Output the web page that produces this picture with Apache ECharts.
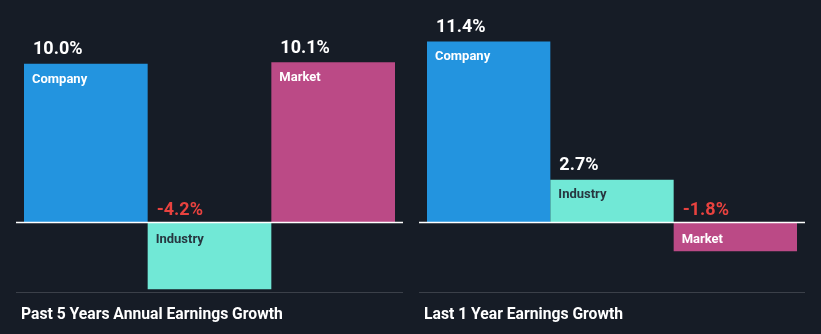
<!DOCTYPE html>
<html>
<head>
<meta charset="utf-8">
<script src="https://cdn.jsdelivr.net/npm/echarts@6/dist/echarts.min.js"></script>
<style>
  html, body { margin: 0; padding: 0; background: #161c26; }
  #chart { width: 821px; height: 334px; }
</style>
</head>
<body>
<div id="chart"></div>
<script>
// Earnings growth comparison: company vs industry vs market
const categories = ['Company', 'Industry', 'Market'];
const past5Years = [10.0, -4.2, 10.1];
const last1Year = [11.4, 2.7, -1.8];
const panelTitles = ['Past 5 Years Annual Earnings Growth', 'Last 1 Year Earnings Growth'];

const barColors = ['#2394DF', '#71E8D6', '#BB4A86'];
const nameColors = ['#FFFFFF', '#273640', '#FFFFFF'];
const FONT = 'Roboto, "Noto Sans", sans-serif';

// Two side-by-side panels sharing one value scale
const grids = [
  { left: 24, width: 371, top: 32, height: 270 },
  { left: 427, width: 370, top: 32, height: 270 }
];
// Horizontal extents of the zero line / footer rule per panel
const rules = [[16, 403], [419, 805]];

function panelSeries(values, idx) {
  const bars = {
    type: 'bar',
    xAxisIndex: idx,
    yAxisIndex: idx,
    barCategoryGap: '0%',
    barGap: '-100%',
    silent: true,
    data: values.map((v, k) => ({
      value: v,
      itemStyle: { color: barColors[k] },
      label: {
        show: true,
        formatter: categories[k],
        position: [8, v >= 0 ? 15.5 : 17],
        verticalAlign: 'middle',
        align: 'left',
        color: nameColors[k],
        fontFamily: FONT,
        fontSize: 13,
        fontWeight: 'bold'
      }
    }))
  };
  const valueLabels = {
    type: 'bar',
    xAxisIndex: idx,
    yAxisIndex: idx,
    barCategoryGap: '0%',
    barGap: '-100%',
    silent: true,
    itemStyle: { color: 'rgba(0,0,0,0)' },
    data: values.map((v) => ({
      value: v,
      label: {
        show: true,
        formatter: v.toFixed(1) + '%',
        position: [9, v >= 0 ? -14 : -12.5],
        verticalAlign: 'middle',
        align: 'left',
        color: v >= 0 ? '#FFFFFF' : '#E8423F',
        fontFamily: FONT,
        fontSize: 18,
        fontWeight: 'bold'
      }
    }))
  };
  return [bars, valueLabels];
}

const chart = echarts.init(document.getElementById('chart'), null, { renderer: 'canvas' });

const axisX = (i) => ({
  type: 'category', gridIndex: i, data: categories,
  axisLine: { show: false }, axisTick: { show: false }, axisLabel: { show: false },
  splitLine: { show: false }
});
const axisY = (i) => ({
  type: 'value', gridIndex: i, min: -5, max: 12,
  axisLine: { show: false }, axisTick: { show: false }, axisLabel: { show: false },
  splitLine: { show: false }
});

chart.setOption({
  backgroundColor: '#161c26',
  animation: false,
  title: panelTitles.map((t, i) => ({
    text: t,
    left: rules[i][0],
    top: 302.5,
    textStyle: { color: '#FFFFFF', fontFamily: FONT, fontSize: 15.7, fontWeight: 'bold' }
  })),
  grid: grids,
  xAxis: [axisX(0), axisX(1)],
  yAxis: [axisY(0), axisY(1)],
  series: [...panelSeries(past5Years, 0), ...panelSeries(last1Year, 1)]
});

// Zero line and footer rule, placed from the value axis
const graphics = [];
rules.forEach((r, i) => {
  const y0 = chart.convertToPixel({ yAxisIndex: i }, 0);
  graphics.push({
    type: 'line', silent: true, z: 10,
    shape: { x1: r[0], y1: y0, x2: r[1], y2: y0 },
    style: { stroke: '#FFFFFF', lineWidth: 1.5 }
  });
  graphics.push({
    type: 'line', silent: true, z: 10,
    shape: { x1: r[0], y1: 292.5, x2: r[1], y2: 292.5 },
    style: { stroke: '#3B4049', lineWidth: 1 }
  });
});
chart.setOption({ graphic: graphics });
</script>
</body>
</html>
